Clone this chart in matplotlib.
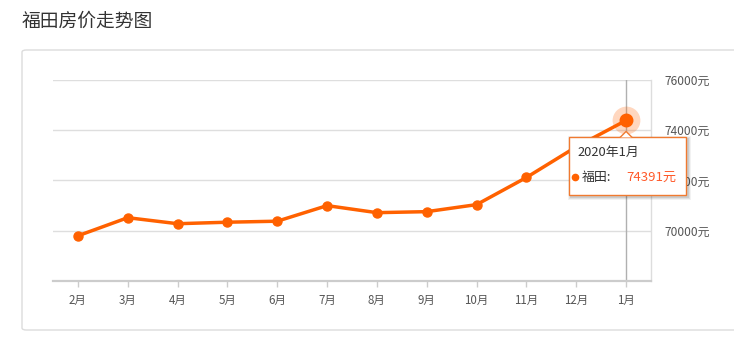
import matplotlib.pyplot as plt
from matplotlib.patches import FancyBboxPatch, Rectangle, Polygon
from matplotlib.transforms import Affine2D

plt.rcParams['font.family'] = ['Noto Sans CJK SC', 'DejaVu Sans']

# data
months = ["2月", "3月", "4月", "5月", "6月", "7月", "8月", "9月", "10月", "11月", "12月", "1月"]
prices = [69800, 70520, 70280, 70340, 70380, 71000, 70720, 70760, 71040, 72120, 73340, 74391]
yticks = [70000, 72000, 74000, 76000]
title = "福田房价走势图"
tip_date = "2020年1月"
tip_name = "福田:"

orange = "#ff6100"
W, H = 734, 354
fig = plt.figure(figsize=(W / 100, H / 100), dpi=100)

# outer card
card = FancyBboxPatch((22 / W, 24 / H), 740 / W, 280 / H, boxstyle="round,pad=0,rounding_size=0.006",
                      transform=fig.transFigure, facecolor="white", edgecolor="#dcdcdc", lw=1, zorder=-1)
fig.patches.append(card)
fig.text(22 / W, 1 - 21 / H, title, fontsize=13.5, color="#333333", va="center", ha="left")

ax = fig.add_axes([53 / W, (H - 281) / H, 598 / W, 201 / H])
ax.set_zorder(2)
ax.patch.set_visible(False)
x = list(range(len(months)))
ax.set_xlim(-0.5, len(months) - 0.5)
ax.set_ylim(68000, 76000)

for s in ["top", "left"]:
    ax.spines[s].set_visible(False)
ax.spines["bottom"].set_color("#cccccc")
ax.spines["bottom"].set_linewidth(1.6)
ax.spines["right"].set_color("#dddddd")
ax.spines["right"].set_linewidth(1)

ax.set_yticks(yticks)
ax.set_yticklabels([f"{v}元" for v in yticks])
ax.yaxis.tick_right()
ax.tick_params(axis="y", length=0, pad=10, labelsize=8.6, labelcolor="#555555")
ax.set_xticks(x)
ax.set_xticklabels(months)
ax.tick_params(axis="x", length=4, width=1, color="#cccccc", pad=5, labelsize=8.3, labelcolor="#555555")
ax.grid(axis="y", color="#dedede", lw=1)
ax.set_axisbelow(True)

# crosshair on last point
ax.axvline(x[-1], color="#b0b0b0", lw=1, zorder=1)

ax.plot(x, prices, color=orange, lw=2.5, marker="o", markersize=6.5, zorder=3)
ax.plot(x[-1], prices[-1], "o", color=orange, markersize=20, alpha=0.25, markeredgewidth=0, zorder=2)
ax.plot(x[-1], prices[-1], "o", color=orange, markersize=9, zorder=4)

# tooltip anchored to last point
px, py = ax.transData.transform((x[-1], prices[-1]))
off = Affine2D().translate(px, py)
for d, a in [(3, 0.05), (2, 0.07), (1, 0.09)]:
    ax.add_patch(Rectangle((-57 - d + 2, -75 - d - 2), 117 + 2 * d, 58 + 2 * d, transform=off,
                           facecolor="#000000", alpha=a, edgecolor="none", zorder=8, clip_on=False))
box = Rectangle((-57, -75), 117, 58, transform=off, facecolor="white", edgecolor="#f07a30",
                lw=1, zorder=9, clip_on=False)
ax.add_patch(box)
notch = Polygon([(-6, -17), (0, -11), (6, -17)], closed=False, transform=off, facecolor="white",
                edgecolor="#f07a30", lw=1, zorder=9.5, clip_on=False)
ax.add_patch(notch)
ax.text(-49, -32, tip_date, transform=off, fontsize=9.3, color="#333333", va="center", zorder=10)
ax.plot([-51], [-57], "o", transform=off, color=orange, markersize=4.5, zorder=10, clip_on=False)
ax.text(-44, -57, tip_name, transform=off, fontsize=9.3, color="#333333", va="center", zorder=10)
ax.text(0, -57, f"{prices[-1]}元", transform=off, fontsize=9.5, color="#ff5a2a", va="center", zorder=10)

fig.savefig("out.png", dpi=100)
